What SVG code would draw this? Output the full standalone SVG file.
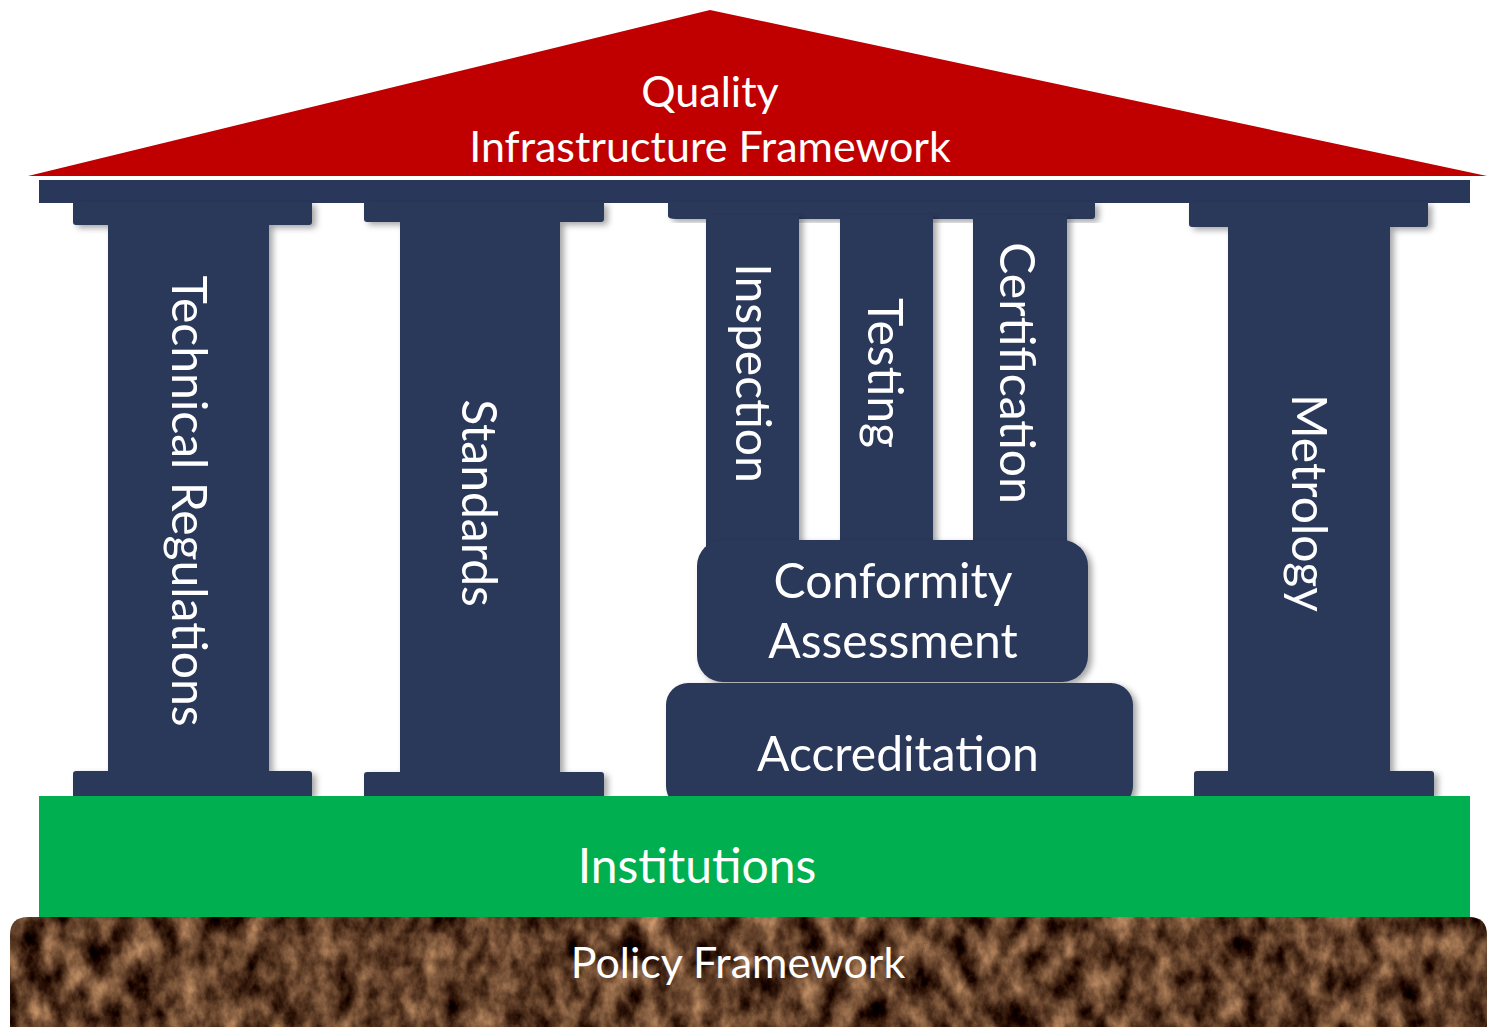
<svg xmlns="http://www.w3.org/2000/svg" width="1487" height="1027" viewBox="0 0 1487 1027">
<defs>
<style>
.navy{fill:#29375A}
.lbl{fill:#FFFFFF;font-family:Lato,"Open Sans","Liberation Sans",sans-serif;text-anchor:middle}
.big{font-size:48px}
.mid{font-size:43px}
</style>
<filter id="shadow" x="-10%" y="-10%" width="130%" height="130%">
<feDropShadow dx="4" dy="3" stdDeviation="3" flood-color="#000" flood-opacity="0.35"/>
</filter>
<filter id="soil" x="0" y="0" width="100%" height="100%" filterUnits="objectBoundingBox" color-interpolation-filters="sRGB">
<feTurbulence type="fractalNoise" baseFrequency="0.045 0.03" numOctaves="5" seed="7" result="n"/>
<feColorMatrix in="n" type="matrix" values="1.08 0 0 0 -0.17  0.90 0 0 0 -0.21  0.686 0 0 0 -0.19  0 0 0 0 1" result="c"/>
<feComposite in="c" in2="SourceGraphic" operator="in"/>
</filter>
</defs>
<rect width="1487" height="1027" fill="#FFFFFF"/>

<g id="roof">
<polygon points="28,176 710,10 1487,176" fill="#C00000"/>
<text class="lbl mid" x="710" y="107">Quality</text>
<text class="lbl mid" x="710" y="162">Infrastructure Framework</text>
</g>

<g id="entablature">
<rect class="navy" x="39" y="180" width="1431" height="23"/>
</g>

<g id="col-technical-regulations" filter="url(#shadow)">
<path class="navy" d="M73,202 H312 V222 Q312,225 309,225 H269 V771 H309 Q312,771 312,774 V796 H73 V774 Q73,771 76,771 H108 V225 H76 Q73,225 73,222 Z"/>
<text class="lbl big" transform="translate(172,501) rotate(90)">Technical Regulations</text>
</g>

<g id="col-standards" filter="url(#shadow)">
<path class="navy" d="M364,202 H604 V219 Q604,222 601,222 H560 V772 H601 Q604,772 604,775 V796 H364 V775 Q364,772 367,772 H400 V222 H367 Q364,222 364,219 Z"/>
<text class="lbl big" transform="translate(462,503) rotate(90)">Standards</text>
</g>

<g id="col-metrology" filter="url(#shadow)">
<path class="navy" d="M1189,202 H1428 V224 Q1428,227 1425,227 H1390 V771 H1431 Q1434,771 1434,774 V796 H1194 V774 Q1194,771 1197,771 H1228 V227 H1192 Q1189,227 1189,224 Z"/>
<text class="lbl big" transform="translate(1292,503) rotate(90)">Metrology</text>
</g>

<g id="conformity-capital" filter="url(#shadow)">
<path class="navy" d="M668,202 H1095 V216 Q1095,219 1092,219 H676 Q668,219 668,216 Z"/>
</g>

<g id="col-inspection" filter="url(#shadow)">
<path class="navy" d="M706,215 H799 V560 H706 V530 Z"/>
<text class="lbl big" transform="translate(736,373) rotate(90)">Inspection</text>
</g>

<g id="col-testing" filter="url(#shadow)">
<rect class="navy" x="840" y="215" width="93" height="345"/>
<text class="lbl big" transform="translate(868,373) rotate(90)">Testing</text>
</g>

<g id="col-certification" filter="url(#shadow)">
<rect class="navy" x="973" y="215" width="94" height="345"/>
<text class="lbl big" transform="translate(1000,373) rotate(90)">Certification</text>
</g>

<g id="conformity-assessment" filter="url(#shadow)">
<rect class="navy" x="697" y="540" width="391" height="142" rx="26"/>
<text class="lbl big" x="893" y="598">Conformity</text>
<text class="lbl big" x="893" y="658">Assessment</text>
</g>

<g id="accreditation" filter="url(#shadow)">
<rect class="navy" x="666" y="683" width="467" height="125" rx="22"/>
<text class="lbl big" x="898" y="771">Accreditation</text>
</g>

<g id="institutions">
<rect x="39" y="796" width="1431" height="121" fill="#00B050"/>
<text class="lbl big" x="697" y="883">Institutions</text>
</g>

<g id="policy-framework">
<path d="M10,1030 V935 Q10,917 28,917 H1469 Q1487,917 1487,935 V1030 Z" fill="#5A3820" filter="url(#soil)"/>
<text class="lbl mid" x="738" y="978">Policy Framework</text>
</g>

<g id="connectors"/>
</svg>
